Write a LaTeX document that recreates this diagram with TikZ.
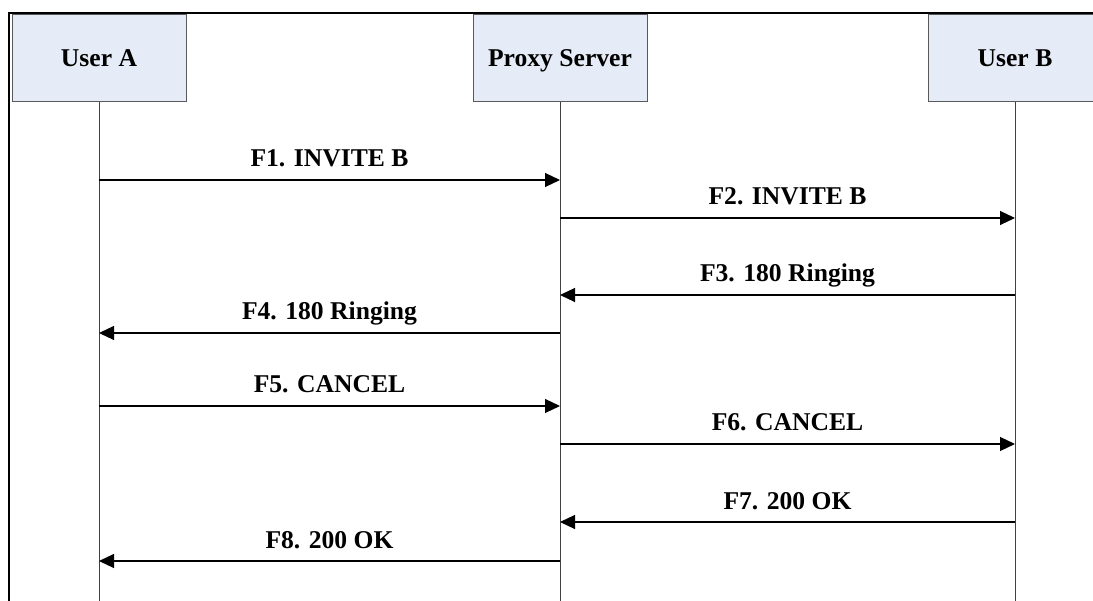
\documentclass[tikz,border=0pt]{standalone}
\usepackage{fontspec}
\setmainfont{Liberation Serif}
\usetikzlibrary{arrows.meta}
\definecolor{boxfill}{RGB}{230,236,247}
\tikzset{
  party/.style={draw=black!65, line width=1pt, fill=boxfill, minimum width=174pt, minimum height=87pt,
    text height=17pt, text depth=0pt, font=\fontsize{25.6}{30}\selectfont\bfseries},
  lifeline/.style={black!75, line width=0.9pt},
  msg/.style={line width=1.1pt, -{Triangle[length=15pt,width=14pt]}},
  lbl/.style={anchor=base, yshift=13pt, inner sep=0pt, font=\fontsize{25.6}{30}\selectfont\bfseries}
}
\begin{document}
\begin{tikzpicture}[x=1pt,y=-1pt]
  \useasboundingbox (0,0) rectangle (1093,601);
  \clip (0,0) rectangle (1093,601);
  % frame
  \draw[line width=2pt] (9,620) -- (9,13) -- (1110,13);
  % parties and lifelines
  \foreach \n/\x/\t in {usera/99/User A, proxy/560/Proxy Server, userb/1015/User B} {
    \node[party] (\n) at (\x,58.5) {\t};
    \draw[lifeline] (\n.south) -- (\n |- 0,620);
  }
  % messages
  \foreach \y/\a/\b/\t in {180/usera/proxy/F1. INVITE B, 218/proxy/userb/F2. INVITE B,
      295/userb/proxy/F3. 180 Ringing, 333/proxy/usera/F4. 180 Ringing,
      406/usera/proxy/F5. CANCEL, 444/proxy/userb/F6. CANCEL,
      522/userb/proxy/F7. 200 OK, 561/proxy/usera/F8. 200 OK}
    \draw[msg] (\a |- 0,\y) -- (\b |- 0,\y) node[lbl, midway] {\t};
\end{tikzpicture}
\end{document}
